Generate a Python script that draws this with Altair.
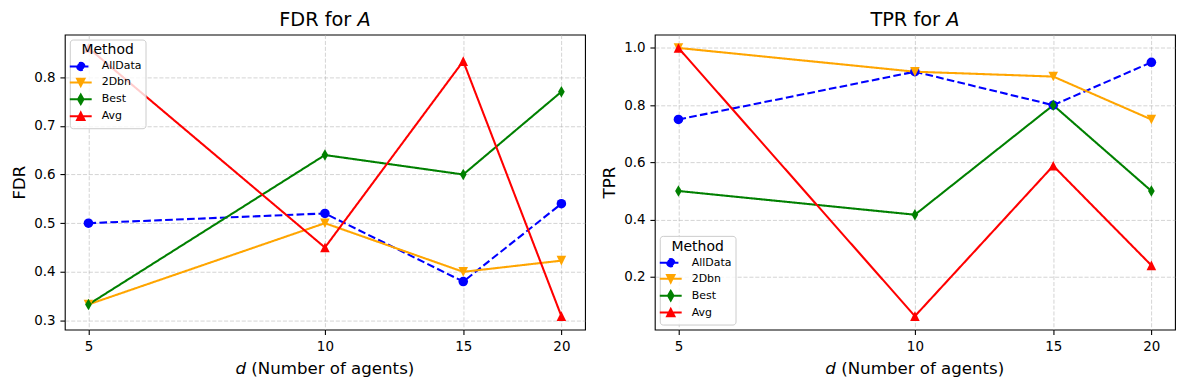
import math
import altair as alt
import pandas as pd

# ---------------- data ----------------
d_values = [5, 10, 15, 20]
methods = ["AllData", "2Dbn", "Best", "Avg"]

fdr_alldata = [0.50, 0.52, 0.38, 0.54]
fdr_2dbn = [0.333, 0.50, 0.40, 0.423]
fdr_best = [0.333, 0.64, 0.60, 0.77]
fdr_avg = [0.86, 0.45, 0.833, 0.309]

tpr_alldata = [0.75, 0.917, 0.80, 0.95]
tpr_2dbn = [1.0, 0.917, 0.90, 0.75]
tpr_best = [0.50, 0.417, 0.80, 0.50]
tpr_avg = [1.0, 0.0625, 0.588, 0.24]

x_ticks = [5, 10, 15, 20]
fdr_ticks = [0.3, 0.4, 0.5, 0.6, 0.7, 0.8]
tpr_ticks = [0.2, 0.4, 0.6, 0.8, 1.0]

# ---------------- styles ----------------
colors = ["blue", "orange", "green", "red"]
dashes = [[7.7, 3.3], [1, 0], [1, 0], [1, 0]]
FONT = "DejaVu Sans"
W, H = 522, 296

LINE = "M-1.83,0H1.83 "
legend_paths = [
    LINE + "M-0.62,0A0.62,0.62,0,1,0,0.62,0A0.62,0.62,0,1,0,-0.62,0Z",
    LINE + "M-0.62,-0.62L0.62,-0.62L0,0.62Z",
    LINE + "M0,-0.8L0.46,0L0,0.8L-0.46,0Z",
    LINE + "M0,-0.62L0.62,0.62L-0.62,0.62Z",
]
P_DOWN = "M-1,-1L1,-1L0,1Z"
P_DIAM = "M0,-1.2L0.7,0L0,1.2L-0.7,0Z"
P_UP = "M0,-1L1,1L-1,1Z"
marker_expr = (
    "datum.Method === 'AllData' ? 'circle' : "
    f"datum.Method === '2Dbn' ? '{P_DOWN}' : "
    f"datum.Method === 'Best' ? '{P_DIAM}' : '{P_UP}'"
)

# DejaVu Sans advance widths (em) for placing the mixed-style titles
ADV = {"F": 0.575, "D": 0.770, "R": 0.695, "T": 0.611, "P": 0.603, " ": 0.318,
       "f": 0.352, "o": 0.612, "r": 0.411, "A": 0.684, "d": 0.635, "(": 0.390,
       ")": 0.390, "N": 0.748, "u": 0.634, "m": 0.974, "b": 0.635, "e": 0.615,
       "a": 0.613, "g": 0.635, "n": 0.634, "t": 0.392, "s": 0.521}


def tw(s, fs):
    return sum(ADV.get(c, 0.6) for c in s) * fs


def text_layer(txt, x, y, fs, italic=False, align="left"):
    return alt.Chart(pd.DataFrame({"k": [0]})).mark_text(
        text=txt, align=align, baseline="alphabetic", fontSize=fs,
        fontStyle="italic" if italic else "normal", font=FONT, color="black",
    ).encode(x=alt.value(x), y=alt.value(y))


def panel(series, prefix, ytitle, yticks, legend_orient):
    rows = [{"d": d, "Method": m, "value": v}
            for m, vals in zip(methods, series) for d, v in zip(d_values, vals)]
    df = pd.DataFrame(rows)
    allv = [v for s in series for v in s]
    lo, hi = min(allv), max(allv)
    pad = 0.05 * (hi - lo)
    ydom = [lo - pad, hi + pad]
    xl, xh = math.log10(min(d_values)), math.log10(max(d_values))
    xp = 0.05 * (xh - xl)
    xdom = [10 ** (xl - xp), 10 ** (xh + xp)]

    grid = dict(grid=True, gridColor="#b0b0b0", gridOpacity=0.55, gridDash=[4.1, 1.8],
                gridWidth=1, domain=False, tickColor="black", tickSize=4.9,
                tickWidth=1.1, labelPadding=4.9, labelFontSize=13.5,
                labelColor="black", labelFont=FONT)
    x_enc = alt.X("d:Q", scale=alt.Scale(type="log", domain=xdom, nice=False),
                  axis=alt.Axis(values=x_ticks, format="d", title=None,
                                labelFlush=False, **grid))
    y_enc = alt.Y("value:Q", scale=alt.Scale(domain=ydom, nice=False, zero=False),
                  axis=alt.Axis(values=yticks, format=".1f", title=ytitle,
                                titleFontSize=16.7, titleFontWeight="normal",
                                titleColor="black", titleFont=FONT,
                                titlePadding=5.6, **grid))
    fill_scale = alt.Scale(domain=methods, range=colors)
    stroke_scale = alt.Scale(domain=methods, range=colors)
    shape_scale = alt.Scale(domain=methods, range=legend_paths)
    dash_scale = alt.Scale(domain=methods, range=dashes)

    leg = alt.Legend(
        title="Method", orient=legend_orient, offset=5, padding=4,
        fillColor="rgba(255,255,255,0.8)", strokeColor="#cccccc", cornerRadius=3,
        titleFontSize=14, titleFontWeight="normal", titleColor="black",
        titleFont=FONT, titleAnchor="middle", titlePadding=2,
        labelFontSize=11, labelColor="black", labelFont=FONT,
        symbolSize=144, labelOffset=14, rowPadding=0, symbolStrokeWidth=2,
        symbolOpacity=1,
    )
    # legend-only layer (no marks drawn), placed first so its legend wins
    legend_layer = alt.Chart(df).transform_filter("false").mark_point(
        opacity=1, strokeWidth=2
    ).encode(
        x=x_enc, y=y_enc,
        fill=alt.Fill("Method:N", scale=fill_scale, legend=leg),
        stroke=alt.Stroke("Method:N", scale=stroke_scale, legend=leg),
        shape=alt.Shape("Method:N", scale=shape_scale, legend=leg),
        strokeDash=alt.StrokeDash("Method:N", scale=dash_scale, legend=leg),
    )
    lines = alt.Chart(df).mark_line(strokeWidth=2.08).encode(
        x=x_enc, y=y_enc,
        stroke=alt.Stroke("Method:N", scale=stroke_scale, legend=leg),
        strokeDash=alt.StrokeDash("Method:N", scale=dash_scale, legend=leg),
        detail="Method:N",
    )
    points = alt.Chart(df).transform_calculate(marker=marker_expr).mark_point(
        filled=True, size=92, opacity=1
    ).encode(
        x=x_enc, y=y_enc,
        fill=alt.Fill("Method:N", scale=fill_scale, legend=leg),
        shape=alt.Shape("marker:N", scale=None, legend=None),
    )

    # title "<prefix> for A" with italic A
    tfs = 19.4
    head = prefix + " for"
    total = tw(head + " A", tfs)
    x0 = W / 2 - total / 2
    t1 = text_layer(head, x0, -9, tfs)
    t2 = text_layer("A", x0 + tw(head + " ", tfs), -9, tfs, italic=True)
    # x title "d (Number of agents)" with italic d
    xfs = 16.7
    rest = "(Number of agents)"
    total2 = tw("d " + rest, xfs)
    x1 = W / 2 - total2 / 2
    t3 = text_layer("d", x1, H + 45, xfs, italic=True)
    t4 = text_layer(rest, x1 + tw("d ", xfs), H + 45, xfs)

    return alt.layer(legend_layer, lines, points, t1, t2, t3, t4).properties(
        width=W, height=H
    )


left = panel([fdr_alldata, fdr_2dbn, fdr_best, fdr_avg], "FDR", "FDR", fdr_ticks, "top-left")
right = panel([tpr_alldata, tpr_2dbn, tpr_best, tpr_avg], "TPR", "TPR", tpr_ticks, "bottom-left")

chart = alt.hconcat(left, right, spacing=70, bounds="flush").resolve_scale(
    color="independent", fill="independent", stroke="independent",
    shape="independent", strokeDash="independent",
).properties(
    padding={"left": 2, "top": 0, "right": 5, "bottom": 5}
).configure(font=FONT).configure_view(stroke="black", strokeWidth=1.1)

chart.save("out.html", embed_options={"renderer": "svg", "actions": False})
